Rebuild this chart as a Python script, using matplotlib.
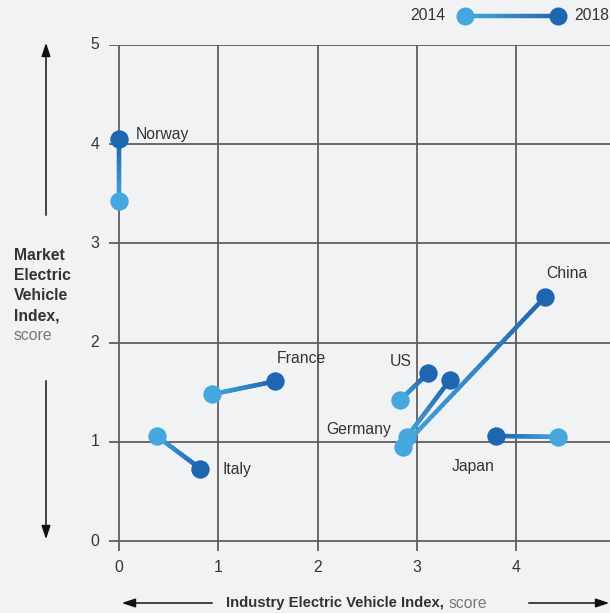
import numpy as np
import matplotlib
matplotlib.use("Agg")
import matplotlib.pyplot as plt
from matplotlib.collections import LineCollection
from matplotlib.colors import LinearSegmentedColormap

plt.rcParams['font.family'] = ['Liberation Sans', 'DejaVu Sans']

# Dados
paises = ['Norway', 'France', 'Italy', 'US', 'Germany', 'China', 'Japan']
industria_2014 = [0.00, 0.94, 0.38, 2.83, 2.90, 2.86, 4.42]
mercado_2014 = [3.43, 1.48, 1.06, 1.42, 1.05, 0.95, 1.05]
industria_2018 = [0.00, 1.57, 0.82, 3.11, 3.33, 4.29, 3.80]
mercado_2018 = [4.05, 1.61, 0.73, 1.69, 1.62, 2.46, 1.06]
ticks_x = [0, 1, 2, 3, 4]
ticks_y = [0, 1, 2, 3, 4, 5]

# posição dos rótulos (em unidades dos eixos)
rotulos = {
    'Norway': (0.17, 4.10),
    'France': (1.59, 1.84),
    'Italy': (1.04, 0.72),
    'US': (2.73, 1.81),
    'Germany': (2.09, 1.12),
    'China': (4.30, 2.70),
    'Japan': (3.35, 0.75),
}

cor_fundo = '#f1f2f4'
cor_claro = '#45a7dd'
cor_escuro = '#1f66b1'
cor_grade = '#5e5e5e'
cor_texto = '#333333'
fs = 11.3
cmap = LinearSegmentedColormap.from_list('grad', [cor_claro, cor_escuro])

fig = plt.figure(figsize=(6.10, 6.13), dpi=100, facecolor=cor_fundo)
ax = fig.add_axes([109 / 610, 62 / 613, 501 / 610, 506 / 613])
ax.set_facecolor(cor_fundo)
ax.set_xlim(-0.1, 4.945)
ax.set_ylim(-0.1, 5.0)
for s in ax.spines.values():
    s.set_visible(False)
ax.set_xticks([])
ax.set_yticks([])

# grade
ax.hlines(ticks_y, -0.1, 4.945, color=cor_grade, lw=1.3, zorder=1)
ax.vlines(ticks_x, -0.1, 5.0, color=cor_grade, lw=1.3, zorder=1)
for v in ticks_y:
    ax.text(-0.2, v, str(v), ha='right', va='center', fontsize=fs, color=cor_texto)
for v in ticks_x:
    ax.text(v, -0.27, str(v), ha='center', va='center', fontsize=fs, color=cor_texto)

# linhas com degradê
for i in range(len(paises)):
    n = 40
    xs = np.linspace(industria_2014[i], industria_2018[i], n)
    ys = np.linspace(mercado_2014[i], mercado_2018[i], n)
    pts = np.column_stack([xs, ys]).reshape(-1, 1, 2)
    segs = np.concatenate([pts[:-1], pts[1:]], axis=1)
    lc = LineCollection(segs, cmap=cmap, linewidths=3.2, capstyle='round', zorder=2)
    lc.set_array(np.linspace(0, 1, n - 1))
    ax.add_collection(lc)

ax.scatter(industria_2014, mercado_2014, s=175, color=cor_claro, zorder=3, linewidths=0)
ax.scatter(industria_2018, mercado_2018, s=175, color=cor_escuro, zorder=3, linewidths=0)

for p in paises:
    x, y = rotulos[p]
    ax.text(x, y, p, ha='left', va='center', fontsize=fs, color=cor_texto, zorder=4)

# legenda
fig.text(445 / 610, 1 - 16 / 613, '2014', ha='right', va='center', fontsize=fs, color=cor_texto)
fig.text(574 / 610, 1 - 16 / 613, '2018', ha='left', va='center', fontsize=fs, color=cor_texto)
lx = np.linspace(465, 558, 40) / 610
ly = np.full(40, 1 - 16 / 613)
pts = np.column_stack([lx, ly]).reshape(-1, 1, 2)
segs = np.concatenate([pts[:-1], pts[1:]], axis=1)
lc = LineCollection(segs, cmap=cmap, linewidths=3.2, transform=fig.transFigure)
lc.set_array(np.linspace(0, 1, 39))
fig.add_artist(lc)
fig.add_artist(plt.Line2D([465 / 610], [1 - 16 / 613], marker='o', ms=13, color=cor_claro,
                          mew=0, transform=fig.transFigure))
fig.add_artist(plt.Line2D([558 / 610], [1 - 16 / 613], marker='o', ms=13, color=cor_escuro,
                          mew=0, transform=fig.transFigure))

# setas dos eixos
seta = dict(arrowstyle='-|>,head_length=0.9,head_width=0.3', color='#111111', lw=1.1, mutation_scale=9)
fig.add_artist(matplotlib.patches.FancyArrowPatch((46 / 610, 1 - 218 / 613), (46 / 610, 1 - 40 / 613),
                                                  transform=fig.transFigure, **seta))
fig.add_artist(matplotlib.patches.FancyArrowPatch((46 / 610, 1 - 378 / 613), (46 / 610, 1 - 542 / 613),
                                                  transform=fig.transFigure, **seta))
fig.add_artist(matplotlib.patches.FancyArrowPatch((215 / 610, 1 - 603 / 613), (119 / 610, 1 - 603 / 613),
                                                  transform=fig.transFigure, **seta))
fig.add_artist(matplotlib.patches.FancyArrowPatch((526 / 610, 1 - 603 / 613), (612 / 610, 1 - 603 / 613),
                                                  transform=fig.transFigure, **seta))

# títulos dos eixos
for k, palavra in enumerate(['Market', 'Electric', 'Vehicle', 'Index,']):
    fig.text(14 / 610, 1 - (256 + 20 * k) / 613, palavra, ha='left', va='center', fontsize=11.3,
             fontweight='bold', color=cor_texto)
fig.text(14 / 610, 1 - 336 / 613, 'score', ha='left', va='center', fontsize=fs, color='#777777')
fig.text(226 / 610, 1 - 603 / 613, 'Industry Electric Vehicle Index,', ha='left', va='center',
         fontsize=10.7, fontweight='bold', color=cor_texto)
fig.text(449 / 610, 1 - 603 / 613, 'score', ha='left', va='center', fontsize=fs, color='#777777')

plt.savefig('out.png', dpi=100, facecolor=cor_fundo)
